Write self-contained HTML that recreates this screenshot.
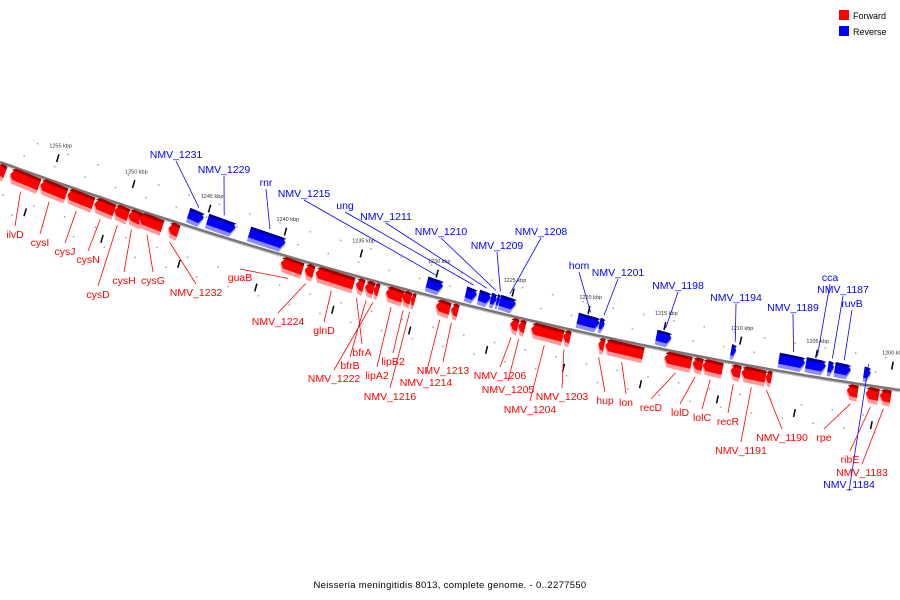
<!DOCTYPE html>
<html><head><meta charset="utf-8"><style>
html,body{margin:0;padding:0;background:#fff;}
svg{display:block;font-family:"Liberation Sans",sans-serif;}
</style></head><body>
<svg id="map" width="900" height="600" viewBox="0 0 900 600" xmlns="http://www.w3.org/2000/svg">
<g>
<rect x="839" y="10" width="10" height="10" fill="#f00"/>
<text x="853" y="19" font-size="9" fill="#000">Forward</text>
<rect x="839" y="26" width="10" height="10" fill="#00f"/>
<text x="853" y="35" font-size="9" fill="#000">Reverse</text>
</g>
<text x="450" y="588" font-size="9.5" text-anchor="middle" fill="#000" letter-spacing="0.3">Neisseria meningitidis 8013, complete genome. - 0..2277550</text>
</svg>
<script>
// ---- data (kbp) ----
const geneNames = ["g0","ilvD","cysI","cysJ","cysN","cysD","cysH","cysG","NMV_1232","NMV_1231","NMV_1229","rnr","guaB","NMV_1224","glnD","bfrA","bfrB","g_1222","g_lipA2","g_lipB2","g_1216","NMV_1215","g_1214","g_1213","ung","NMV_1211","NMV_1210","NMV_1209","NMV_1208","g_1206","g_1205","g_1204","g_1203","hom","NMV_1201","hup","lon","NMV_1198","recD","lolD","lolC","NMV_1194","recR","NMV_1191","NMV_1190","NMV_1189","cca","NMV_1187","ruvB","rpe","NMV_1184","ribE","NMV_1183"];
const geneStart = [1258.3,1257.43,1255.46,1253.69,1251.92,1250.61,1249.69,1248.97,1247.07,1246.15,1244.90,1242.15,1239.72,1238.15,1237.43,1234.80,1234.21,1233.62,1232.84,1231.79,1231.20,1230.48,1229.56,1228.57,1227.92,1227.07,1226.28,1225.89,1225.69,1224.70,1224.18,1223.33,1221.23,1220.57,1219.13,1218.93,1218.48,1215.39,1214.61,1212.77,1212.11,1210.48,1210.28,1209.56,1207.98,1207.33,1205.56,1204.11,1203.66,1202.67,1201.75,1201.43,1200.51];
const geneEnd   = [1257.75,1255.52,1253.75,1251.98,1250.61,1249.69,1248.77,1247.46,1246.41,1245.16,1243.07,1239.79,1238.28,1237.56,1234.93,1234.28,1233.62,1233.30,1231.72,1231.20,1230.93,1229.43,1228.64,1228.11,1227.20,1226.28,1225.89,1225.69,1224.64,1224.18,1223.72,1221.23,1220.77,1219.13,1218.80,1218.54,1215.98,1214.41,1212.84,1212.11,1210.80,1210.15,1209.62,1207.98,1207.59,1205.62,1204.25,1203.72,1202.61,1201.95,1201.30,1200.57,1199.79];
const geneStrand = [1,1,1,1,1,1,1,1,1,-1,-1,-1,1,1,1,1,1,1,1,1,1,-1,1,1,-1,-1,-1,-1,-1,1,1,1,1,-1,-1,1,1,-1,1,1,1,-1,1,1,1,-1,-1,-1,-1,1,-1,1,1];
const labelText = ["ilvD","cysI","cysJ","cysN","cysD","cysH","cysG","NMV_1232","NMV_1231","NMV_1229","rnr","guaB","NMV_1224","glnD","bfrA","bfrB","NMV_1222","lipA2","lipB2","NMV_1216","NMV_1215","NMV_1214","NMV_1213","ung","NMV_1211","NMV_1210","NMV_1209","NMV_1208","NMV_1206","NMV_1205","NMV_1204","NMV_1203","hom","NMV_1201","hup","lon","NMV_1198","recD","lolD","lolC","NMV_1194","recR","NMV_1191","NMV_1190","NMV_1189","cca","NMV_1187","ruvB","rpe","NMV_1184","ribE","NMV_1183"];
const labelGene = [1,2,3,4,5,6,7,8,9,10,11,12,13,14,15,16,17,18,19,20,21,22,23,24,25,26,27,28,29,30,31,32,33,34,35,36,37,38,39,40,41,42,43,44,45,46,47,48,49,50,51,52];
const labelX = [15,40,65,88,98,124,153,196,176,224,266,240,278,324,362,350,334,377,393,390,304,426,443,345,386,441,497,541,500,508,530,562,579,618,605,626,678,651,680,702,736,728,741,782,793,830,843,852,824,849,850,862];
const labelY = [238,246,255,263,298,284,284,296,158,173,186,281,325,334,356,369,382,379,365,400,197,386,374,209,220,235,249,235,379,393,413,400,269,276,404,406,289,411,416,421,301,425,454,441,311,281,293,307,441,488,463,476];
const tickKbp = [1255,1250,1245,1240,1235,1230,1225,1220,1215,1210,1205,1200];

const NS="http://www.w3.org/2000/svg";
const svg=document.getElementById('map');
function X(k){return 50+(1255-k)*15.25;}
function Y(x){return 162+0.3633*x-0.0001222*x*x;}
function slope(x){return 0.3633-0.0002444*x;}
function pt(x,off){const s=slope(x),n=Math.sqrt(1+s*s);return [x-s*off/n, Y(x)+off/n];}
function mk(tag,attrs,parent){const e=document.createElementNS(NS,tag);for(const a in attrs)e.setAttribute(a,attrs[a]);(parent||svg).appendChild(e);return e;}
const gTrack=mk('g',{});


for(let k=1259;k>=1199;k-=2){
  const x=X(k); if(x<0||x>900)continue;
  [[-14,0],[-30,8],[30,-6],[46,8]].forEach(o=>{
    const p=pt(x+o[1],o[0]);
    const d=mk('rect',{x:p[0]-0.8,y:p[1]-0.8,width:1.6,height:1.6,fill:'#aaa'},gTrack);
    
    
  });
}
let pts=[],pts2=[];
for(let x=0;x<=900;x+=5){pts.push(x+','+Y(x).toFixed(1));pts2.push(x+','+(Y(x)+1.5).toFixed(1));}
const sh=mk('polyline',{points:pts2.join(' '),fill:'none',stroke:'#ccc','stroke-width':2},gTrack);


const bb=mk('polyline',{points:pts.join(' '),fill:'none',stroke:'#777','stroke-width':2.5},gTrack);


tickKbp.forEach(k=>{
  const x=X(k);
  const a=pt(x,-24),b=pt(x,-20);
  const t=mk('line',{x1:a[0]+1,y1:a[1]-3,x2:b[0],y2:b[1]+1,stroke:'#000','stroke-width':1.5},gTrack);
  
  
  const c=pt(x-12,38),d=pt(x-12,42);
  const t2=mk('line',{x1:c[0]+1,y1:c[1]-3,x2:d[0],y2:d[1]+1,stroke:'#000','stroke-width':1.5},gTrack);
  
  
  const l=pt(x,-32);
  const tl=mk('text',{x:l[0],y:l[1]-2,'font-size':5.5,'text-anchor':'middle',fill:'#333'},gTrack);
  tl.textContent=k+' kbp';
  
  
});
function poly(x1,x2,o1,o2,dir,fill,parent){
  const a=pt(x1,o1),b=pt(x2,o1),c=pt(x2,o2),d=pt(x1,o2);
  const m1=pt(x1,(o1+o2)/2),m2=pt(x2,(o1+o2)/2);
  let P;
  const tip=Math.min(4,(x2-x1)/2);
  if(dir<0){
    P=[a,[b[0]-tip,b[1]],m2,[c[0]-tip,c[1]],d];
  } else {
    P=[[a[0]+tip,a[1]],b,c,[d[0]+tip,d[1]],m1];
  }
  return mk('polygon',{points:P.map(p=>p[0].toFixed(1)+','+p[1].toFixed(1)).join(' '),fill:fill},parent);
}
const gGenes=mk('g',{});


for(let i=0;i<geneNames.length;i++){
  const x1=X(geneStart[i]),x2=X(geneEnd[i]),s=geneStrand[i];
  const g=mk('g',{},gGenes);
  
  
  const o=s>0?[2,18]:[-18,-3];
  const cols=s>0?['#ff9a9a','#f00','#a00000']:['#8c8cff','#00f','#000090'];
  poly(x1,x2,o[0],o[1],s,cols[0],g);
  poly(x1,x2,o[0],o[1]-4,s,cols[1],g);
  poly(x1,x2,o[0],o[0]+3,s,cols[2],g);
}
const gLab=mk('g',{});


for(let i=0;i<labelText.length;i++){
  const gi=labelGene[i],s=geneStrand[gi];
  const xm=(X(geneStart[gi])+X(geneEnd[gi]))/2;
  const col=s>0?'#f00':'#00f';
  const p=pt(xm,s>0?21:-21);
  const ly=s>0?labelY[i]-12:labelY[i]+3;
  const ln=mk('line',{x1:labelX[i],y1:ly,x2:p[0],y2:p[1],stroke:col,'stroke-width':0.8},gLab);
  
  
  const t=mk('text',{x:labelX[i],y:labelY[i],'font-size':10.5,'text-anchor':'middle',fill:col},gLab);
  t.textContent=labelText[i];
  
  
}
</script>
</body></html>
